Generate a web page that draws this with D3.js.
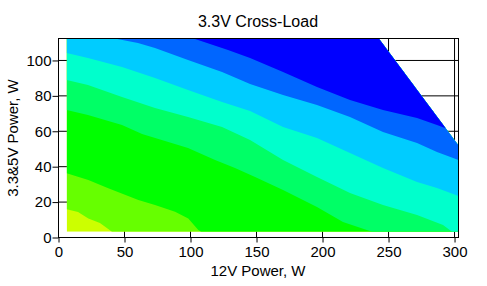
<!DOCTYPE html>
<html>
<head>
<meta charset="utf-8">
<script src="https://cdn.jsdelivr.net/npm/d3@7"></script>
<style>
  body { margin: 0; background: #fff; }
  svg text { font-family: Arial, "Liberation Sans", sans-serif; fill: #000; }
</style>
</head>
<body>
<svg id="chart" width="487" height="286"></svg>
<script>
// band colours, lowest level first
var bandColors = ["#ccff00", "#66ff00", "#00ff00", "#00ff66", "#00ffcc", "#00ccff", "#0066ff", "#0000ff"];

// measured area: 12V power and 3.3&5V power range, total power limit
var load12 = [6.2, 303];
var load33 = [3.3, 112.4];
var maxTotal = 355;

// lower edge of each band [12V W, 3.3&5V W]
var edge1 = [[6.2, 15.9], [14.8, 14.4], [22.6, 10.8], [31.4, 8.2], [40.5, 3.3]];
var edge2 = [[6.2, 36.3], [22.6, 32.5], [37.7, 27.8], [60.5, 21.2], [73.1, 18.4], [88.3, 14.6], [98.3, 10.8], [105.9, 4.2], [108, 3.3]];
var edge3 = [[6.2, 72.0], [22.3, 69.2], [48.1, 63.6], [63.3, 58.5], [80.7, 54.5], [98.1, 50.6], [118.6, 43.8], [133.7, 39.3],
             [148.9, 34.2], [170.1, 26.8], [195.8, 17.2], [215.5, 8.8], [237.5, 3.3]];
var edge4 = [[6.2, 89.0], [22.3, 86.2], [48.1, 79.4], [73.1, 73.2], [98.1, 68.1], [123.9, 62.4], [145.1, 55.1], [170.1, 43.8],
             [195.8, 34.2], [220.8, 25.1], [245.8, 18.4], [271.6, 12.7], [291.3, 7.1], [298.1, 3.3]];
var edge5 = [[6.2, 104.2], [22.3, 101.4], [48.1, 96.3], [73.1, 90.1], [98.1, 83.3], [123.9, 76.6], [145.1, 71.5], [170.1, 62.4],
             [195.8, 56.2], [220.8, 47.7], [245.8, 39.3], [271.6, 31.4], [286.7, 28.0], [303, 23.4]];
var edge6 = [[40.5, 112.7], [60.2, 109.9], [73.1, 107.1], [98.1, 100.3], [123.9, 93.5], [145.1, 86.7], [170.1, 80.5],
             [195.8, 74.9], [220.8, 68.1], [245.8, 59.6], [271.6, 53.4], [286.7, 48.3], [303, 43.8]];
var edge7 = [[101.1, 112.7], [128.4, 105.9], [145.1, 101.4], [170.1, 93.5], [195.8, 85.0], [220.8, 77.7], [245.8, 72.0],
             [271.6, 67.5], [286.7, 63.6], [303, 59.0]];
var edges = [edge1, edge2, edge3, edge4, edge5, edge6, edge7];

var xTicks = [0, 50, 100, 150, 200, 250, 300];
var yTicks = [0, 20, 40, 60, 80, 100];

var svg = d3.select("#chart");
var x = d3.scaleLinear().domain([0, 303]).range([58.5, 458.5]);
var y = d3.scaleLinear().domain([0, 112.4]).range([237.5, 38.5]);

var line = d3.line()
  .x(function(d) { return x(d[0]) })
  .y(function(d) { return y(d[1]) });

// grid under the map
svg.append("g").selectAll("line").data(xTicks.slice(1)).enter().append("line")
  .attr("x1", function(d) { return x(d) }).attr("x2", function(d) { return x(d) })
  .attr("y1", y.range()[0]).attr("y2", y.range()[1])
  .attr("stroke", "#000");
svg.append("g").selectAll("line").data(yTicks.slice(1)).enter().append("line")
  .attr("y1", function(d) { return y(d) }).attr("y2", function(d) { return y(d) })
  .attr("x1", x.range()[0]).attr("x2", x.range()[1])
  .attr("stroke", "#000");

// region that was actually measured
var area = [[load12[0], load33[0]], [load12[1], load33[0]], [load12[1], maxTotal - load12[1]],
            [maxTotal - load33[1], load33[1]], [load12[0], load33[1]]];
svg.append("clipPath").attr("id", "measured")
  .append("path").attr("d", line(area) + "Z");

var map = svg.append("g").attr("clip-path", "url(#measured)");
map.append("path").attr("d", line(area) + "Z").attr("fill", bandColors[0]);

edges.forEach(function(e, i) {
  var pts = e.slice();
  var last = pts[pts.length - 1];
  if (last[1] <= load33[0]) pts.push([load12[1], load33[0]]);
  pts.push([load12[1], load33[1] + 1]);
  pts.push([load12[0], load33[1] + 1]);
  map.append("path")
    .attr("d", line(pts) + "Z")
    .attr("fill", bandColors[i + 1]);
});

// frame
svg.append("rect")
  .attr("x", x.range()[0]).attr("y", y.range()[1])
  .attr("width", x.range()[1] - x.range()[0])
  .attr("height", y.range()[0] - y.range()[1])
  .attr("fill", "none").attr("stroke", "#000");

var xAxis = svg.append("g").attr("transform", "translate(0," + y.range()[0] + ")")
  .call(d3.axisBottom(x).tickValues(xTicks).tickSizeInner(5).tickSizeOuter(0).tickPadding(4));
var yAxis = svg.append("g").attr("transform", "translate(" + x.range()[0] + ",0)")
  .call(d3.axisLeft(y).tickValues(yTicks).tickSizeInner(6).tickSizeOuter(0).tickPadding(1));
[xAxis, yAxis].forEach(function(g) {
  g.select(".domain").remove();
  g.selectAll("line").attr("stroke", "#000");
  g.selectAll("text").attr("font-size", 15).attr("font-family", null).attr("fill", "#000");
});

svg.append("text")
  .attr("x", 258).attr("y", 27)
  .attr("text-anchor", "middle").attr("font-size", 16)
  .text("3.3V Cross-Load");
svg.append("text")
  .attr("x", 258).attr("y", 276)
  .attr("text-anchor", "middle").attr("font-size", 15)
  .text("12V Power, W");
svg.append("text")
  .attr("transform", "translate(18,138) rotate(-90)")
  .attr("text-anchor", "middle").attr("font-size", 15)
  .text("3.3&5V Power, W");
</script>
</body>
</html>
